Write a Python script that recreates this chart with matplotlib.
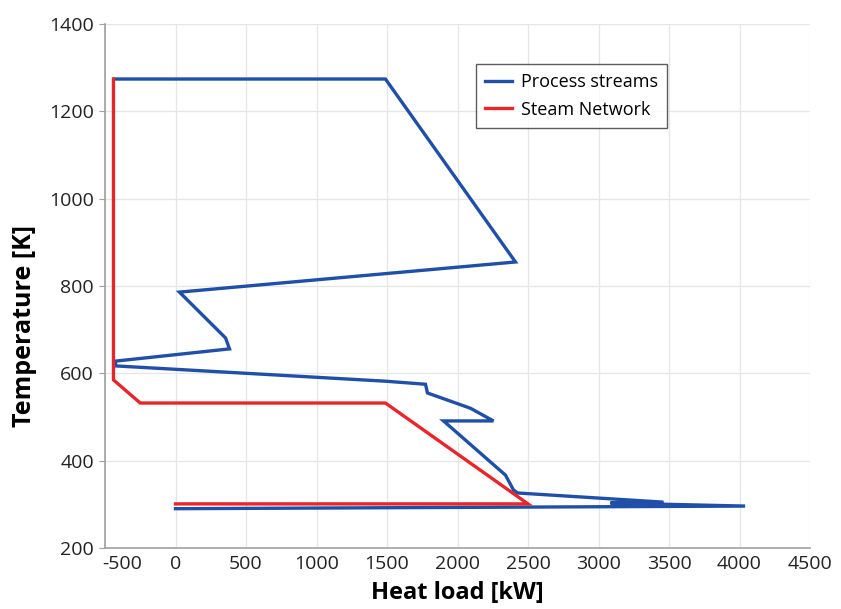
import matplotlib
matplotlib.use("Agg")
import matplotlib.pyplot as plt
import matplotlib.transforms as mtransforms

# process streams composite curve (heat load kW, temperature K)
process_q = [-433, 1489, 2411, 28, 355, 383, -425, -425, 1489, 1773, 1787, 2092, 2255,
             1901, 2340, 2397, 2426, 3461, 3085, 4040, 0]
process_t = [1274, 1274, 855, 786, 681, 656, 628, 617, 582, 575, 555, 520, 491,
             491, 367, 333, 326, 305, 303, 296, 290]

# steam network curve
steam_q = [0, 2500, 1489, -250, -440, -440]
steam_t = [301, 301, 532, 532, 585, 1274]

x_ticks = list(range(-500, 4501, 500))
y_ticks = list(range(200, 1401, 200))

plt.rcParams['font.family'] = ['Open Sans', 'DejaVu Sans']
plt.rcParams['axes.unicode_minus'] = False

fig = plt.figure(figsize=(8.41, 6.09), dpi=100)
ax = fig.add_axes([105 / 841, 61 / 609, 705 / 841, 524 / 609])

ax.plot(process_q, process_t, color='#1f4fa8', linewidth=2.4, label='Process streams', solid_joinstyle='miter')
ax.plot(steam_q, steam_t, color='#e8262a', linewidth=2.4, label='Steam Network', solid_joinstyle='miter')

ax.set_xlim(-500, 4500)
ax.set_ylim(200, 1400)
ax.set_xticks(x_ticks)
ax.set_yticks(y_ticks)
ax.grid(True, color='#e6e6e6', linewidth=0.9)
ax.set_axisbelow(True)

for side in ['top', 'right']:
    ax.spines[side].set_visible(False)
for side in ['left', 'bottom']:
    ax.spines[side].set_color('#a0a0a0')
    ax.spines[side].set_linewidth(1.2)

ax.tick_params(axis='both', labelsize=14, color='#a0a0a0', length=4, labelcolor='#222222')
ax.tick_params(axis='x', length=0, pad=5)
ax.tick_params(axis='y', pad=4)

# first x label sits a bit right of its tick, as in the original
first = ax.get_xticklabels()[0]
first.set_transform(first.get_transform() + mtransforms.ScaledTranslation(0.17, 0, fig.dpi_scale_trans))

ax.set_xlabel('Heat load [kW]', fontsize=17, fontweight='bold', labelpad=6)
ax.set_ylabel('Temperature [K]', fontsize=18, fontweight='bold')
ax.yaxis.set_label_coords(-0.096, 0.424)

leg = ax.legend(loc='upper left', bbox_to_anchor=(0.526, 0.924), borderaxespad=0, fontsize=13,
                frameon=True, fancybox=False, edgecolor='#333333', handlelength=1.5,
                handletextpad=0.5, borderpad=0.5, labelspacing=0.55)
leg.get_frame().set_linewidth(1.0)

fig.savefig('out.png', dpi=100)
